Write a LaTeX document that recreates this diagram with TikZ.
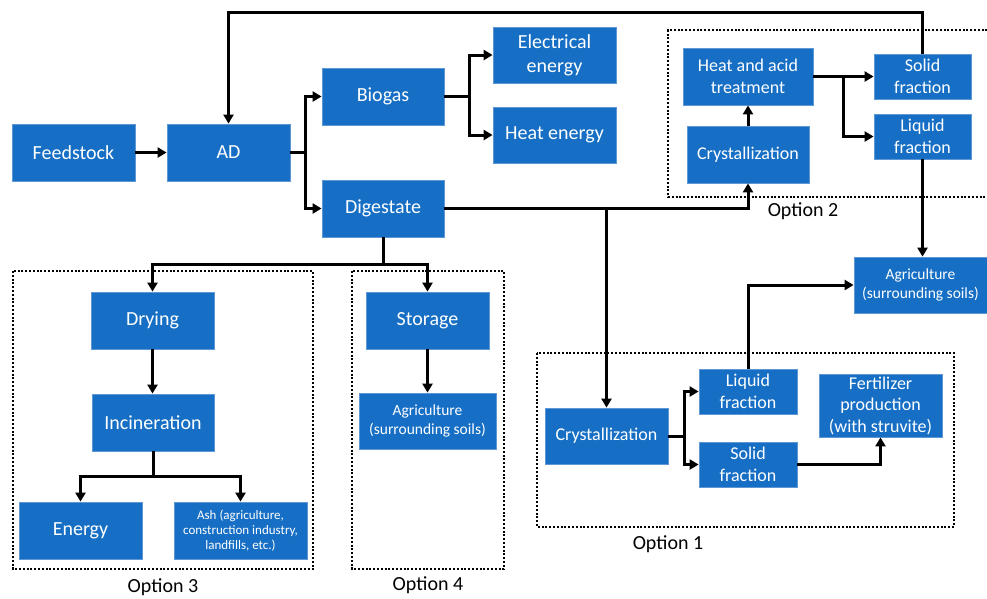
\documentclass[tikz,border=0pt]{standalone}
\usepackage{fontspec}
\setmainfont{Carlito}
\usetikzlibrary{arrows.meta}
\definecolor{boxblue}{RGB}{22,111,197}
\definecolor{boxedge}{RGB}{95,150,212}
\tikzset{
  box/.style={draw=boxedge, line width=0.8pt, fill=boxblue, text=white, inner sep=0pt, align=center, font=\fontsize{20}{24}\selectfont},
  midf/.style={font=\fontsize{18}{21.5}\selectfont},
  smallf/.style={font=\fontsize{15.5}{19}\selectfont},
  tinyf/.style={font=\fontsize{13}{15}\selectfont},
  arr/.style={line width=3pt, -{Triangle[length=9pt,width=10pt]}},
  ln/.style={line width=3pt},
  optbox/.style={line width=2.6pt, dash pattern=on 2pt off 1.8pt},
  optlabel/.style={font=\fontsize{20}{24}\selectfont, inner sep=0pt}
}
\begin{document}
\begin{tikzpicture}[x=1pt,y=-1pt]
\useasboundingbox (0,0) rectangle (987,598);
% option boxes
\draw[optbox] (13,271) rectangle (313,569);
\draw[optbox] (352,271) rectangle (504,569);
\draw[optbox] (537,353) rectangle (954,527);
\draw[optbox] (995,30) -- (668,30) -- (668,197) -- (995,197);
\node[optlabel] (o1) at (668,544) {Option 1};
\node[optlabel] (o2) at (803,211) {Option 2};
\node[optlabel] (o3) at (163,587) {Option 3};
\node[optlabel] (o4) at (428,585) {Option 4};
% boxes
\node[box, minimum width=123, minimum height=57] (feed) at (73.5,152.5) {Feedstock};
\node[box, minimum width=123, minimum height=57] (ad) at (228.5,152.5) {AD};
\node[box, minimum width=122, minimum height=57] (biogas) at (383,96.5) {Biogas};
\node[box, minimum width=122, minimum height=57] (digest) at (383,208.5) {Digestate};
\node[box, minimum width=123, minimum height=56] (elec) at (554.5,55) {Electrical\\energy};
\node[box, minimum width=123, minimum height=56] (heat) at (554.5,135) {Heat energy};
\node[box, midf, minimum width=130, minimum height=57] (hat) at (748,76.5) {Heat and acid\\treatment};
\node[box, midf, minimum width=122, minimum height=57] (cry2) at (748,154.5) {Crystallization};
\node[box, midf, minimum width=97, minimum height=45] (sol2) at (922.5,76.5) {Solid\\fraction};
\node[box, midf, minimum width=97, minimum height=45] (liq2) at (922.5,136.5) {Liquid\\fraction};
\node[box, smallf, minimum width=133, minimum height=56] (agr1) at (920.5,285) {Agriculture\\(surrounding soils)};
\node[box, midf, minimum width=123, minimum height=56] (cry1) at (606.5,436) {Crystallization};
\node[box, midf, minimum width=98, minimum height=45] (liq1) at (748,391.5) {Liquid\\fraction};
\node[box, midf, minimum width=98, minimum height=45] (sol1) at (748,464.5) {Solid\\fraction};
\node[box, midf, minimum width=123, minimum height=63] (fert) at (880.5,405.5) {Fertilizer\\production\\(with struvite)};
\node[box, minimum width=123, minimum height=57] (dry) at (152.5,320.5) {Drying};
\node[box, minimum width=122, minimum height=57] (inc) at (153,422.5) {Incineration};
\node[box, minimum width=123, minimum height=57] (energy) at (80.5,530.5) {Energy};
\node[box, tinyf, minimum width=133, minimum height=57] (ash) at (240.5,530.5) {Ash (agriculture,\\construction industry,\\landfills, etc.)};
\node[box, minimum width=123, minimum height=57] (stor) at (427.5,320.5) {Storage};
\node[box, smallf, minimum width=137, minimum height=56] (agr4) at (427.5,421) {Agriculture\\(surrounding soils)};
% connectors
\coordinate (j1) at (305,152.5);
\coordinate (j2) at (469,96.5);
\coordinate (j3) at (843,76.5);
\coordinate (j4) at (684,436);
\coordinate (j5) at (383,264);
\coordinate (j6) at (152.5,476);
\coordinate (top) at (922.5,12);
\draw[arr] (feed.east) -- (ad.west);
\draw[ln] (ad.east) -- (j1);
\draw[arr] (j1) |- (biogas.west);
\draw[arr] (j1) |- (digest.west);
\draw[ln] (biogas.east) -- (j2);
\draw[arr] (j2) |- (elec.west);
\draw[arr] (j2) |- (heat.west);
\draw[arr] (digest.east) -| (cry2.south);
\draw[arr] (cry1.north |- digest.east) -- (cry1.north);
\draw[arr] (cry2.north) -- (hat.south);
\draw[ln] (hat.east) -- (j3);
\draw[arr] (j3) -- (sol2.west);
\draw[arr] (j3) |- (liq2.west);
\draw[arr] (sol2.north) -- (top) -| (ad.north);
\draw[arr] (liq2.south) -- (liq2.south |- agr1.north);
\draw[ln] (cry1.east) -- (j4);
\draw[arr] (j4) |- (liq1.west);
\draw[arr] (j4) |- (sol1.west);
\draw[arr] (liq1.north) |- (agr1.west);
\draw[arr] (sol1.east) -| (fert.south);
\draw[ln] (digest.south) -- (j5);
\draw[arr] (j5) -| (dry.north);
\draw[arr] (j5) -| (stor.north);
\draw[arr] (dry.south) -- (dry.south |- inc.north);
\draw[ln] (inc.south) -- (inc.south |- j6);
\draw[arr] (inc.south |- j6) -| (energy.north);
\draw[arr] (inc.south |- j6) -| (ash.north);
\draw[arr] (stor.south) -- (agr4.north);
\end{tikzpicture}
\end{document}
